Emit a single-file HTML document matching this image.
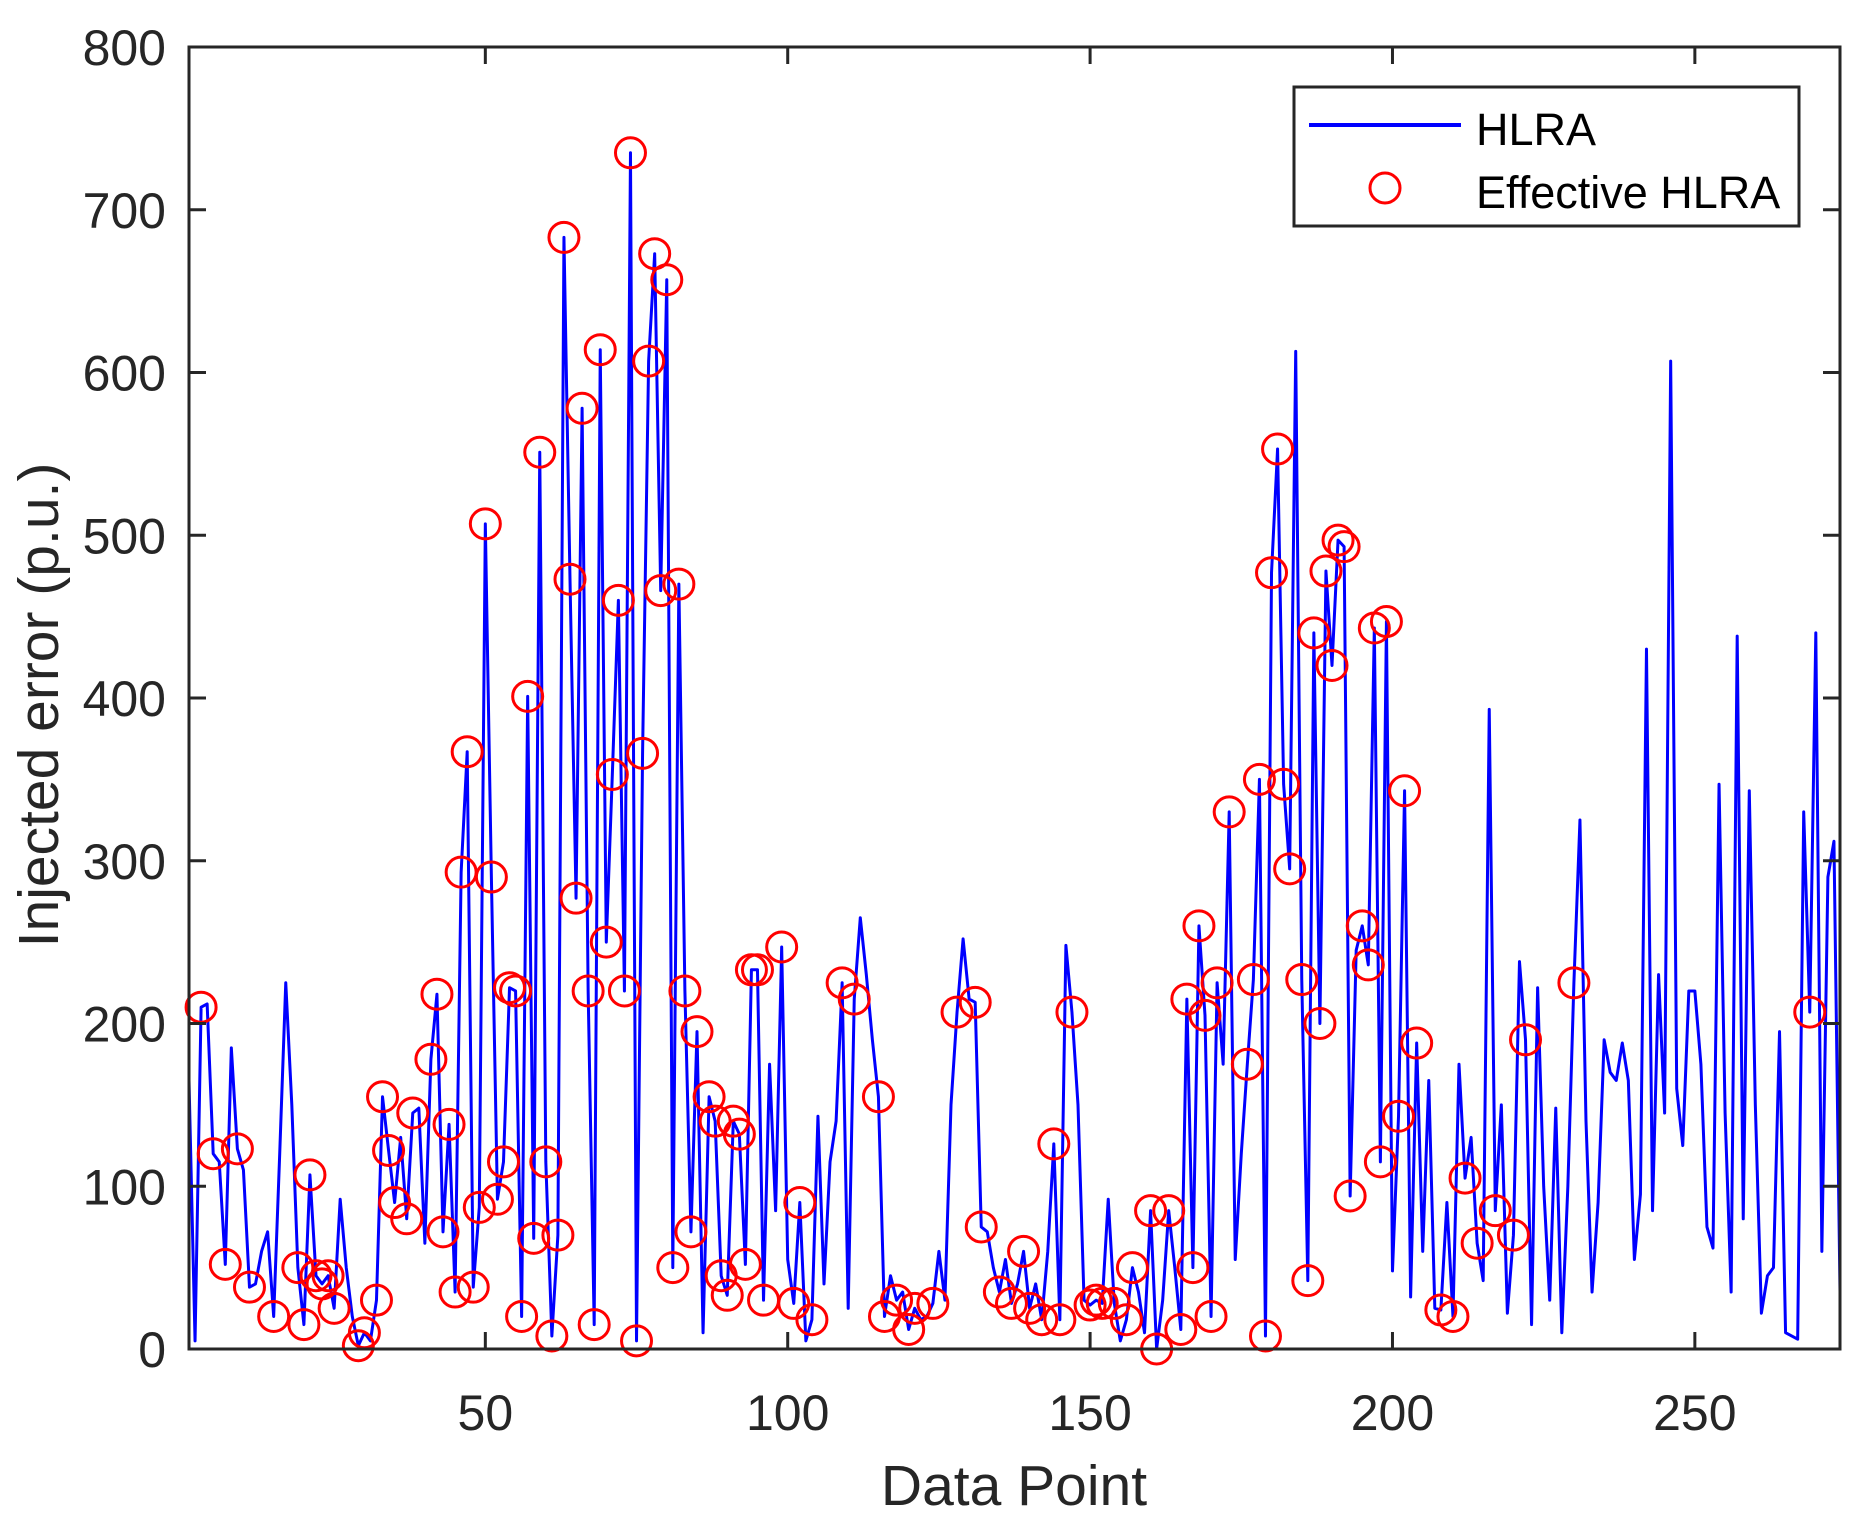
<!DOCTYPE html>
<html><head><meta charset="utf-8"><style>
html,body{margin:0;padding:0;background:#fff;}
svg{display:block;font-family:"Liberation Sans",Arial,sans-serif;}
</style></head><body>
<svg id="chart" width="1864" height="1531" viewBox="0 0 1864 1531" xmlns="http://www.w3.org/2000/svg">
<rect x="0" y="0" width="1864" height="1531" fill="#fff"/>
<g id="plot"></g>
<g id="axes"></g>
<g>
<rect x="1294" y="87" width="505" height="139" fill="#fff" stroke="#262626" stroke-width="3"/>
<line x1="1309" y1="125" x2="1461" y2="125" stroke="#0000ff" stroke-width="4"/>
<text x="1476" y="145" font-size="45" fill="#000">HLRA</text>
<circle cx="1385" cy="188" r="15" fill="none" stroke="#ff0000" stroke-width="3"/>
<text x="1476" y="208" font-size="45" fill="#000">Effective HLRA</text>
</g>
<text x="1014" y="1505" font-size="57" fill="#262626" text-anchor="middle">Data Point</text>
<text x="0" y="0" font-size="57" fill="#262626" text-anchor="middle" transform="translate(58,705) rotate(-90)">Injected error (p.u.)</text>
</svg>
<script>
const hlraValues = [165,5,210,212,120,115,52,185,123,110,38,40,60,72,20,120,225,150,50,15,
107,45,40,45,25,92,50,20,2,10,5,30,155,122,90,130,80,145,148,65,
178,218,72,138,35,293,367,38,87,507,290,92,115,222,220,20,401,68,551,115,
8,70,683,473,277,578,220,15,614,250,353,460,220,735,5,366,607,673,466,657,
50,470,220,72,195,10,155,140,45,33,140,132,52,233,233,30,175,85,247,55,
28,90,5,18,143,40,115,140,225,25,
215,265,230,190,155,20,45,30,35,12,
25,18,20,28,60,30,150,207,252,215,
213,75,72,50,35,55,28,40,60,25,
40,18,60,126,18,248,207,150,30,27,
30,28,92,28,5,18,50,35,10,85,
0,30,85,50,12,215,50,260,205,
20,225,175,330,55,120,175,227,350,8,
477,553,347,295,613,227,42,440,200,478,
420,497,493,94,245,260,236,443,115,447,
48,143,343,32,188,60,165,25,24,90,
20,175,105,130,65,42,393,85,150,22,
70,238,190,15,222,100,30,148,10,100,
225,325,140,35,90,190,170,165,188,165,
55,95,430,85,230,145,607,160,125,220,
220,175,75,62,347,145,35,438,80,343,
150,22,45,50,195,10,8,6,330,207,440,
60,290,312,35];
const effectiveIdx = [3,5,7,9,11,15,19,20,21,22,23,24,25,29,30,32,33,34,35,37,38,41,42,43,44,45,46,47,48,49,
50,51,52,53,54,55,56,57,58,59,60,61,62,63,64,65,66,67,68,69,70,71,72,73,74,75,76,77,78,79,80,81,82,83,84,85,
87,88,89,90,91,92,93,94,95,96,99,101,102,104,109,111,
115,116,118,120,121,124,128,131,132,135,137,139,140,142,144,145,147,150,151,152,154,156,157,160,161,163,165,
166,167,168,169,170,171,173,176,177,178,179,180,181,182,183,185,186,187,188,189,190,191,192,193,195,196,197,
198,199,201,202,204,208,210,212,214,217,220,222,230,269];
const xTickLabels = [50,100,150,200,250];
const yTickLabels = [0,100,200,300,400,500,600,700,800];

const L=189,R=1840,T=47,B=1349, XMIN=1, XMAX=274, YMIN=0, YMAX=800;
const NS='http://www.w3.org/2000/svg';
function xs(v){return L+(v-XMIN)/(XMAX-XMIN)*(R-L);}
function ys(v){return B-(v-YMIN)/(YMAX-YMIN)*(B-T);}
function mk(tag,attrs,parent){const e=document.createElementNS(NS,tag);for(const k in attrs)e.setAttribute(k,attrs[k]);parent.appendChild(e);return e;}
const plot=document.getElementById('plot'), axes=document.getElementById('axes');

let d='';
hlraValues.forEach((v,i)=>{d+=(i?'L':'M')+xs(i+1).toFixed(2)+' '+ys(v).toFixed(2);});
const line=mk('path',{d:d,fill:'none',stroke:'#0000ff','stroke-width':3,'stroke-linejoin':'round'},plot);



effectiveIdx.forEach(idx=>{
  const c=mk('circle',{cx:xs(idx),cy:ys(hlraValues[idx-1]),r:15,fill:'none',stroke:'#ff0000','stroke-width':3},plot);
  
  
});

const box=mk('rect',{x:L,y:T,width:R-L,height:B-T,fill:'none',stroke:'#262626','stroke-width':3},axes);



xTickLabels.forEach(v=>{
  const x=xs(v);
  const t1=mk('line',{x1:x,y1:B,x2:x,y2:B-17,stroke:'#262626','stroke-width':3},axes);
  
  
  const t2=mk('line',{x1:x,y1:T,x2:x,y2:T+17,stroke:'#262626','stroke-width':3},axes);
  
  
  const tx=mk('text',{x:x,y:1430,'font-size':50,fill:'#262626','text-anchor':'middle'},axes);
  tx.textContent=v;
  
  
});
yTickLabels.forEach(v=>{
  const y=ys(v);
  const t1=mk('line',{x1:L,y1:y,x2:L+17,y2:y,stroke:'#262626','stroke-width':3},axes);
  
  
  const t2=mk('line',{x1:R,y1:y,x2:R-17,y2:y,stroke:'#262626','stroke-width':3},axes);
  
  
  const tx=mk('text',{x:166,y:y+18,'font-size':50,fill:'#262626','text-anchor':'end'},axes);
  tx.textContent=v;
  
  
});
</script>
</body></html>
